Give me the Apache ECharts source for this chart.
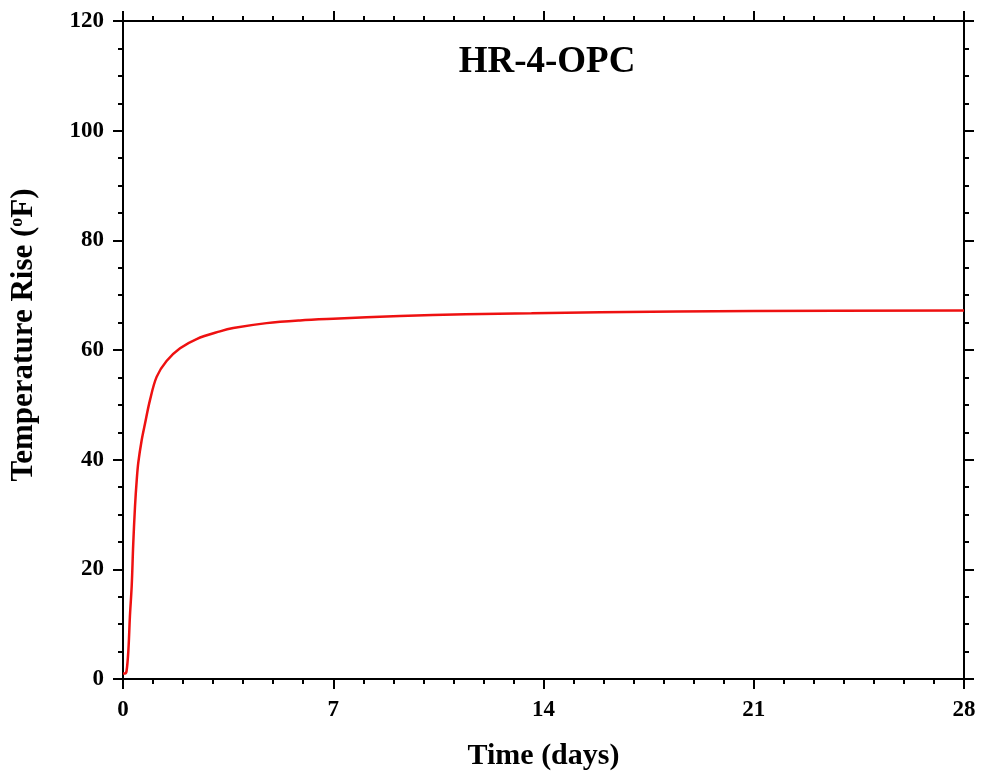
<!DOCTYPE html>
<html>
<head>
<meta charset="utf-8">
<title>HR-4-OPC</title>
<script src="https://cdn.jsdelivr.net/npm/echarts@6/dist/echarts.min.js"></script>
<style>
  html, body { margin: 0; padding: 0; background: #fff; }
  #chart { width: 981px; height: 778px; }
</style>
</head>
<body>
<div id="chart"></div>
<script>
// data
const timeDays = [0.0, 0.07, 0.12, 0.18, 0.23, 0.29, 0.34, 0.40, 0.46, 0.51, 0.62, 0.73, 0.90, 1.12, 1.45, 1.90, 2.45, 3.23, 3.67, 4.78, 5.89, 7.0, 9.22, 11.4, 13.6, 15.9, 21, 28]
const tempRise = [1.0, 1.0, 1.5, 5.3, 11.4, 17.0, 24.5, 31.5, 36.5, 39.5, 43.5, 46.5, 50.9, 55.1, 58.0, 60.3, 62.0, 63.4, 64.0, 64.9, 65.4, 65.7, 66.2, 66.5, 66.7, 66.9, 67.1, 67.2]
const xTicks = [0, 7, 14, 21, 28]
const yTicks = [0, 20, 40, 60, 80, 100, 120]

const font = 'Liberation Serif, Times New Roman, serif'
const chart = echarts.init(document.getElementById('chart'))

// shared axis look
const axisLine = { show: true, onZero: false, lineStyle: { color: '#000', width: 2 } }
const axisTick = { show: true, inside: false, length: 10, lineStyle: { color: '#000', width: 2 } }
const minorTick = { show: true, length: 5, lineStyle: { color: '#000', width: 2 } }
const label = { fontFamily: font, fontWeight: 'bold', fontSize: 23, color: '#000' }

const xBase = {
  type: 'value',
  min: xTicks[0],
  max: xTicks[xTicks.length - 1],
  interval: 7,
  axisLine: axisLine,
  axisTick: axisTick,
  minorTick: Object.assign({ splitNumber: 7 }, minorTick),
  splitLine: { show: false }
}
const yBase = {
  type: 'value',
  min: yTicks[0],
  max: yTicks[yTicks.length - 1],
  interval: 20,
  axisLine: axisLine,
  axisTick: axisTick,
  minorTick: Object.assign({ splitNumber: 4 }, minorTick),
  splitLine: { show: false }
}

const option = {
  backgroundColor: '#fff',
  animation: false,
  title: {
    text: 'HR-4-OPC',
    left: 542,
    top: 39,
    textAlign: 'center',
    textStyle: { fontFamily: font, fontWeight: 'bold', fontSize: 37, color: '#000' }
  },
  grid: { left: 123, right: 17, top: 21, bottom: 99, outerBoundsMode: 'none' },
  xAxis: [
    Object.assign({}, xBase, {
      position: 'bottom',
      name: 'Time (days)',
      nameLocation: 'middle',
      nameGap: 62,
      nameTextStyle: { fontFamily: font, fontWeight: 'bold', fontSize: 30, color: '#000' },
      axisLabel: Object.assign({ margin: 20 }, label)
    }),
    Object.assign({}, xBase, { position: 'top', axisLabel: { show: false } })
  ],
  yAxis: [
    Object.assign({}, yBase, {
      position: 'left',
      name: 'Temperature Rise ({sup|o}F)',
      nameLocation: 'middle',
      nameGap: 84,
      nameTextStyle: {
        fontFamily: font, fontWeight: 'bold', fontSize: 31, color: '#000',
        padding: [0, 0, 0, 30],
        rich: {
          sup: { fontFamily: font, fontWeight: 'bold', fontSize: 18, color: '#000', verticalAlign: 'top', padding: [0, 0, 12, 0] }
        }
      },
      axisLabel: Object.assign({ margin: 19 }, label)
    }),
    Object.assign({}, yBase, { position: 'right', axisLabel: { show: false } })
  ],
  series: [
    {
      type: 'line',
      data: timeDays.map((t, i) => [t, tempRise[i]]),
      smooth: 0.35,
      showSymbol: false,
      lineStyle: { color: '#ee1111', width: 2.5 },
      xAxisIndex: 0,
      yAxisIndex: 0
    }
  ]
}
chart.setOption(option)
</script>
</body>
</html>
